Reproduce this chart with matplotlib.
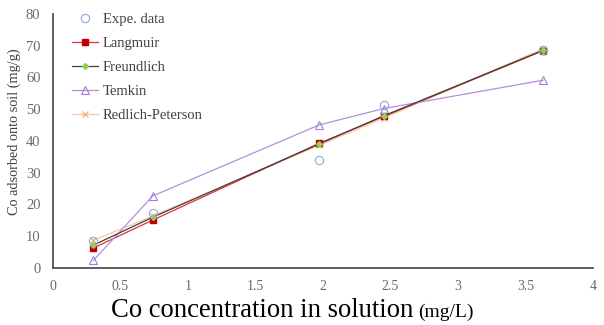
import matplotlib
matplotlib.use("Agg")
import matplotlib.pyplot as plt

plt.rcParams['font.family'] = ['Liberation Serif', 'DejaVu Serif']

# Equilibrium concentration (mg/L) and adsorbed amount (mg/g)
conc = [0.30, 0.74, 1.97, 2.45, 3.63]
expe = [8.6, 17.2, 34.0, 51.4, 68.6]
langmuir = [6.3, 15.1, 39.2, 47.7, 68.4]
freundlich = [7.2, 16.0, 39.0, 47.9, 68.5]
temkin = [2.4, 22.7, 45.0, 50.2, 59.1]
redlich_peterson = [8.7, 16.4, 38.6, 47.2, 69.0]

xticks = [0, 0.5, 1, 1.5, 2, 2.5, 3, 3.5, 4]
xticklabels = ['0', '0.5', '1', '1.5', '2', '2.5', '3', '3.5', '4']
yticks = [0, 10, 20, 30, 40, 50, 60, 70, 80]

fig = plt.figure(figsize=(6.04, 3.25), dpi=100)
ax = fig.add_axes([0.0877, 0.1754, 0.894, 0.782])

ax.plot(conc, langmuir, color='#e03333', lw=0.9, marker='s', ms=4,
        mfc='#c00000', mec='#c00000', label='Langmuir', zorder=3)
ax.plot(conc, freundlich, color='#404040', lw=0.9, marker='D', ms=3,
        mfc='#92d050', mec='#92d050', label='Freundlich', zorder=4)
ax.plot(conc, temkin, color='#b38fde', lw=0.9, marker='^', ms=6,
        mfc='none', mec='#a47fd6', mew=0.8, label='Temkin', zorder=3)
ax.plot(conc, redlich_peterson, color='#f8c6a0', lw=0.9, marker='x', ms=5,
        mec='#f4a470', mew=0.8, label='Redlich-Peterson', zorder=2)
ax.plot(conc, expe, ls='none', marker='o', ms=6, mfc='none',
        mec='#8fa9dc', mew=0.8, label='Expe. data', zorder=5)

handles, labels = ax.get_legend_handles_labels()
order = [4, 0, 1, 2, 3]
leg = ax.legend([handles[i] for i in order], [labels[i] for i in order],
                loc='upper left', bbox_to_anchor=(0.011, 1.055), frameon=False,
                fontsize=10.5, labelspacing=0.74, handlelength=1.8,
                handletextpad=0.3)
for t in leg.get_texts():
    t.set_color('#404040')

ax.set_xlim(0, 4)
ax.set_ylim(0, 80)
ax.set_xticks(xticks)
ax.set_xticklabels(xticklabels)
ax.set_yticks(yticks)

for s in ['top', 'right']:
    ax.spines[s].set_visible(False)
for s in ['left', 'bottom']:
    ax.spines[s].set_color('#505050')
    ax.spines[s].set_linewidth(1.3)

ax.tick_params(axis='both', length=0, colors='#6a6a6a', labelsize=10.5)
ax.tick_params(axis='x', pad=9, labelsize=10)
ax.tick_params(axis='y', pad=9)

ax.set_ylabel('Co adsorbed onto soil (mg/g)', fontsize=10.3, color='#404040')
ax.yaxis.set_label_coords(-0.060, 0.535)

fig.text(0.684, 0.025, 'Co concentration in solution', fontsize=19.2,
         ha='right', va='baseline', color='black')
fig.text(0.692, 0.025, '(mg/L)', fontsize=14, ha='left', va='baseline',
         color='black')

fig.savefig('out.png', dpi=100)
